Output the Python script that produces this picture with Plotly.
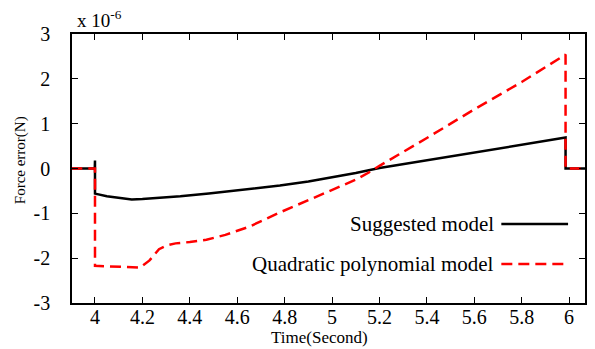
import plotly.graph_objects as go

# Values in units of 1e-6 N
t_suggested = [3.90, 3.999, 4.0, 4.0, 4.05, 4.10, 4.155, 4.20, 4.30, 4.36, 4.48, 4.60, 4.70, 4.78,
               4.90, 5.00, 5.10, 5.20, 5.40, 5.60, 5.80, 5.985, 5.985, 6.07]
f_suggested = [0.0, 0.0, 0.18, -0.56, -0.62, -0.66, -0.69, -0.68, -0.65, -0.62, -0.56, -0.49, -0.43, -0.38,
               -0.29, -0.20, -0.10, 0.01, 0.18, 0.35, 0.52, 0.69, 0.0, 0.0]

t_quad = [3.90, 4.0, 4.0, 4.10, 4.19, 4.23, 4.27, 4.30, 4.34, 4.40, 4.47, 4.55, 4.65, 4.78,
          4.90, 5.00, 5.10, 5.155, 5.20, 5.40, 5.60, 5.80, 5.985, 5.985, 6.07]
f_quad = [0.0, 0.0, -2.17, -2.19, -2.21, -2.05, -1.80, -1.72, -1.67, -1.64, -1.59, -1.48, -1.30, -0.98,
          -0.70, -0.48, -0.25, -0.09, 0.06, 0.68, 1.32, 1.93, 2.54, 0.0, 0.0]

x_ticks = [4, 4.2, 4.4, 4.6, 4.8, 5, 5.2, 5.4, 5.6, 5.8, 6]
x_tick_labels = ["4", "4.2", "4.4", "4.6", "4.8", "5", "5.2", "5.4", "5.6", "5.8", "6"]
y_ticks = [-3, -2, -1, 0, 1, 2, 3]
y_tick_labels = ["-3", "-2", "-1", "0", "1", "2", "3"]

legend_names = ["Suggested model", "Quadratic polynomial model"]
x_title = "Time(Second)"
y_title = "Force error(N)"

FONT = "Liberation Serif, Times New Roman, serif"
W, H = 595, 349
L, R, T, B = 72, 8, 34, 46
PW, PH = W - L - R, H - T - B


def px_x(px):
    return (px - L) / PW


def px_y(py):
    return (H - B - py) / PH


fig = go.Figure()
fig.add_trace(go.Scatter(x=t_suggested, y=f_suggested, mode="lines",
                         line=dict(color="black", width=2.5), name=legend_names[0]))
fig.add_trace(go.Scatter(x=t_quad, y=f_quad, mode="lines",
                         line=dict(color="#ff0000", width=2.5, dash="11px,6px"), name=legend_names[1]))

axis_common = dict(showline=True, mirror="ticks", linecolor="black", linewidth=1.5,
                   ticks="inside", ticklen=6, tickwidth=1, tickcolor="black",
                   showgrid=False, zeroline=False,
                   tickfont=dict(family=FONT, size=20, color="black"))

fig.update_layout(
    width=W, height=H,
    margin=dict(l=L, r=R, t=T, b=B),
    paper_bgcolor="white", plot_bgcolor="white",
    showlegend=False,
    font=dict(family=FONT, color="black", size=16),
    xaxis=dict(range=[3.903, 6.067], tickvals=x_ticks, ticktext=x_tick_labels,
               ticklabelstandoff=-5, **axis_common),
    yaxis=dict(range=[-3, 3], tickvals=y_ticks, ticktext=y_tick_labels,
               ticklabelstandoff=16, **axis_common),
)

# axis titles
fig.add_annotation(xref="paper", yref="paper", x=px_x(320), y=px_y(337), xanchor="center", yanchor="middle",
                   text=x_title, showarrow=False, font=dict(family=FONT, size=17, color="black"))
fig.add_annotation(xref="paper", yref="paper", x=px_x(20), y=px_y(160), xanchor="center", yanchor="middle",
                   text=y_title, showarrow=False, textangle=-90,
                   font=dict(family=FONT, size=15, color="black"))

# exponent label
fig.add_annotation(xref="paper", yref="paper", x=px_x(75), y=px_y(19), xanchor="left", yanchor="middle",
                   text="x 10<sup>-6</sup>", showarrow=False,
                   font=dict(family=FONT, size=19, color="black"))

# gnuplot-style legend: text then sample line
legend_y = [224, 264]
styles = [dict(color="black", width=2.5), dict(color="#ff0000", width=2.5, dash="11px,6px")]
for name, yy, st in zip(legend_names, legend_y, styles):
    yp = px_y(yy)
    fig.add_annotation(xref="paper", yref="paper", x=px_x(498), y=yp, xanchor="right", yanchor="middle",
                       text=name, showarrow=False, font=dict(family=FONT, size=21, color="black"))
    fig.add_shape(type="line", xref="paper", yref="paper",
                  x0=px_x(503), x1=px_x(570), y0=yp, y1=yp, line=st)

fig.write_html("out.html")
